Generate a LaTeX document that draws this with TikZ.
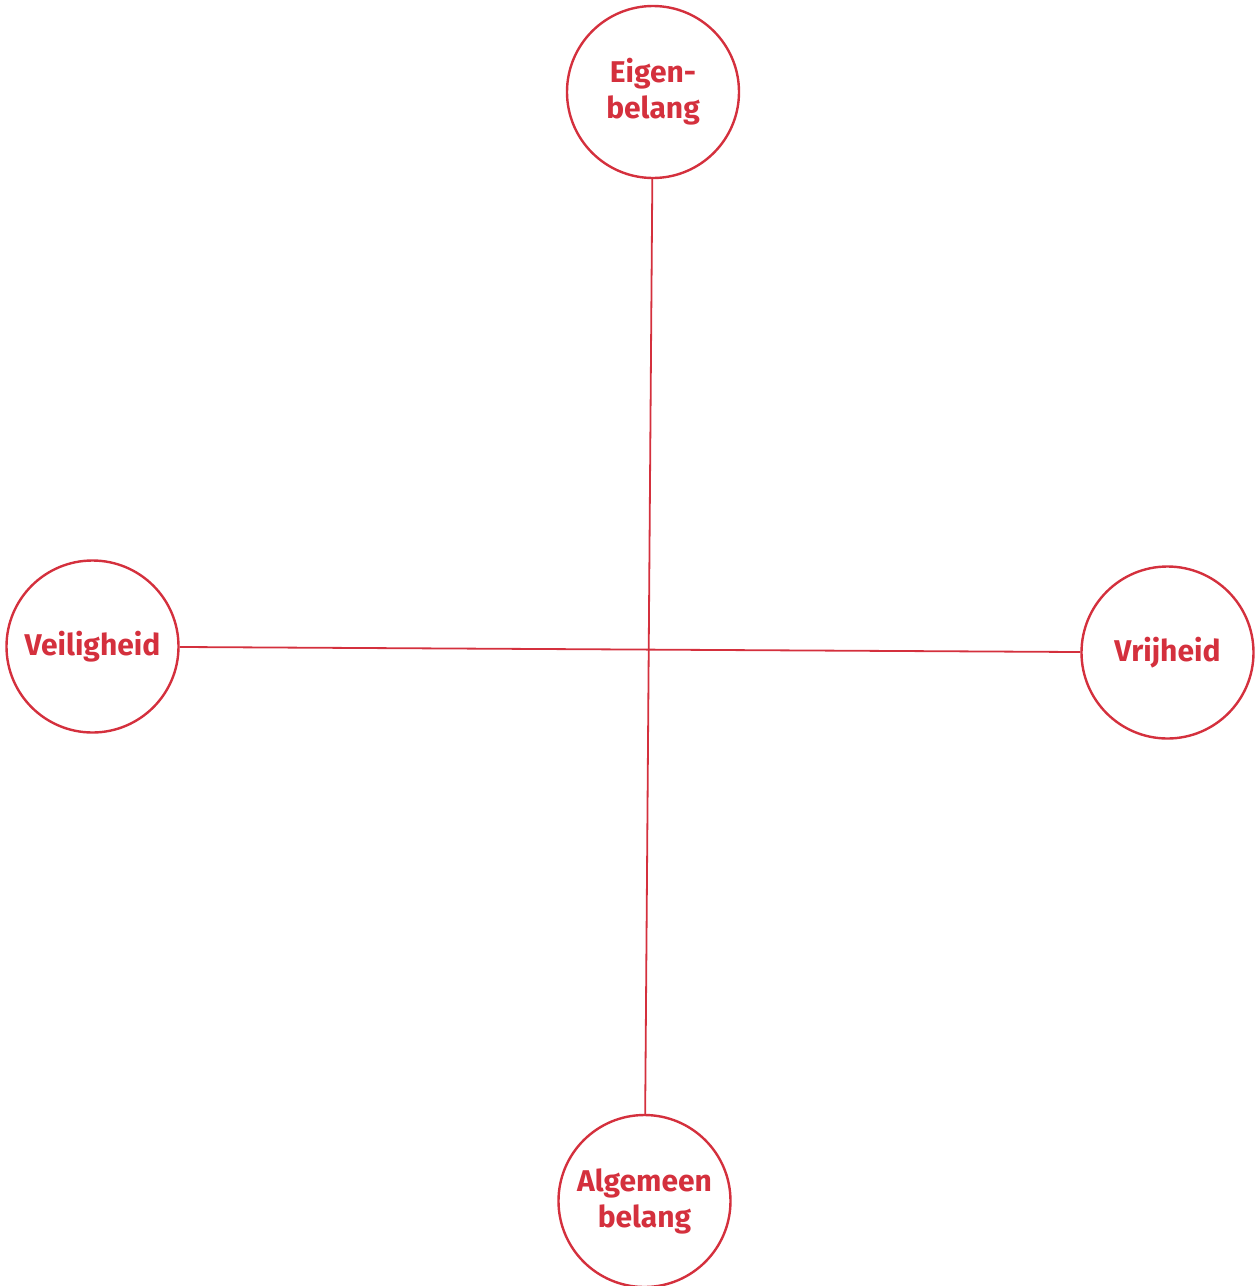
\documentclass[tikz,border=0pt]{standalone}
\usepackage{fontspec}
\setsansfont{Fira Sans}
\usetikzlibrary{positioning}
\definecolor{kompasrood}{HTML}{D4303D}

\begin{document}
\begin{tikzpicture}[
  x=0.5pt,
  y=-0.5pt,
  font=\sffamily\bfseries\fontsize{15}{18}\selectfont,
  pool/.style={
    draw=kompasrood,
    line width=1.2pt,
    circle,
    minimum size=86pt,
    inner sep=0pt,
    align=center,
    text=kompasrood
  },
  as/.style={
    draw=kompasrood,
    line width=0.9pt
  }
  ]
  \useasboundingbox (0, 0) rectangle (1255, 1286);
  \node [pool] (Eigen) at (653, 92) {Eigen-\\belang};
  \node [pool] (Veilig) at (92.5, 646.5) {Veiligheid};
  \node [pool] (Vrij) at (1167.5, 652.5) {Vrijheid};
  \node [pool] (Algemeen) at (644.5, 1201) {Algemeen\\belang};

  \draw [as] (Eigen) -- (Algemeen);
  \draw [as] (Veilig) -- (Vrij);
\end{tikzpicture}
\end{document}
